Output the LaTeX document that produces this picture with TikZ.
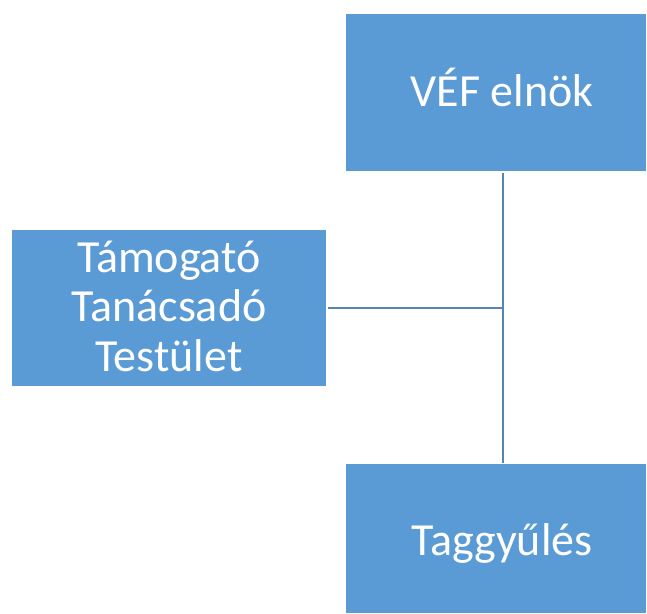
\documentclass[tikz,border=0pt]{standalone}
\usepackage{fontspec}
\setmainfont{Carlito}
\definecolor{boxblue}{HTML}{5B9BD5}
\definecolor{lineblue}{HTML}{5484B8}
\begin{document}
\begin{tikzpicture}[x=1pt,y=-1pt,
  orgtext/.style={text=white,font=\fontsize{46}{49.5}\selectfont,align=center,inner sep=0pt},
  link/.style={draw=lineblue,line width=2.4pt}]
\useasboundingbox (0,0) rectangle (647,613);
\fill[boxblue] (346,14) rectangle (646,171);
\node[orgtext,anchor=base] (top) at (502,106) {VÉF elnök};
\fill[boxblue] (12,230) rectangle (326,386);
\node[orgtext] (left) at (169,306) {Támogató\\Tanácsadó\\Testület};
\fill[boxblue] (346,464) rectangle (646,613);
\node[orgtext,anchor=base] (bot) at (502,555) {Taggyűlés};
\coordinate (ta) at (503,173);
\coordinate (j) at (503,308);
\coordinate (ba) at (503,463);
\coordinate (la) at (328,308);
\draw[link] (ta) -- (ba);
\draw[link] (la) -- (j);
\end{tikzpicture}
\end{document}
